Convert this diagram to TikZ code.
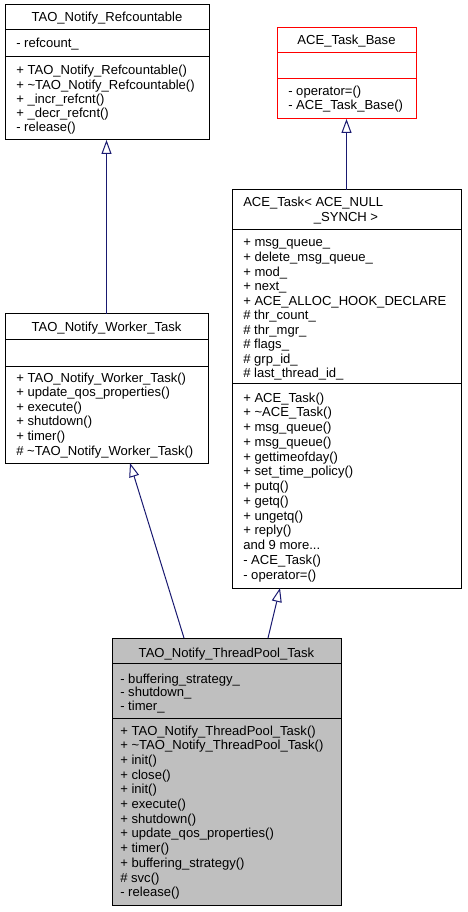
\documentclass[tikz,border=0pt]{standalone}
\usepackage{fontspec}
\setmainfont{Liberation Sans}
\usetikzlibrary{arrows.meta,calc}
\definecolor{navy}{HTML}{191970}
\definecolor{boxgray}{HTML}{BFBFBF}
\newcommand\tdots{.\kern0pt.\kern0pt.}
\begin{document}
\begin{tikzpicture}[x=0.75pt,y=-0.75pt,
  txt/.style={anchor=base west, inner sep=0pt, font=\fontsize{9.8}{11}\selectfont},
  ttl/.style={anchor=base, inner sep=0pt, font=\fontsize{9.8}{11}\selectfont},
  cls/.style={draw=black, line width=0.75pt, inner sep=0pt, outer sep=0pt},
  sep/.style={line width=0.75pt},
  inh/.style={draw=navy, line width=0.75pt, -{Triangle[open,length=10.5pt,width=7.5pt]}}]
\useasboundingbox (0,0) rectangle (467,912);
% boxes
\node[cls, minimum width=153pt, minimum height=101.25pt] (A) at (107,72.5) {};
\node[cls, draw=red, minimum width=104.25pt, minimum height=68.25pt] (B) at (346.5,73.5) {};
\node[cls, minimum width=171.75pt, minimum height=298.5pt] (C) at (346.5,389) {};
\node[cls, minimum width=152.25pt, minimum height=111.75pt] (D) at (106.5,388.5) {};
\node[cls, fill=boxgray, minimum width=171.75pt, minimum height=200.25pt] (E) at (226.5,771.5) {};
% separators
\draw[sep] ($(A.north west)+(0,25)$) -- ($(A.north east)+(0,25)$);
\draw[sep] ($(A.north west)+(0,52)$) -- ($(A.north east)+(0,52)$);
\draw[sep, red] ($(B.north west)+(0,25)$) -- ($(B.north east)+(0,25)$);
\draw[sep, red] ($(B.north west)+(0,51)$) -- ($(B.north east)+(0,51)$);
\draw[sep] ($(C.north west)+(0,40)$) -- ($(C.north east)+(0,40)$);
\draw[sep] ($(C.north west)+(0,193)$) -- ($(C.north east)+(0,193)$);
\draw[sep] ($(D.north west)+(0,26)$) -- ($(D.north east)+(0,26)$);
\draw[sep] ($(D.north west)+(0,52)$) -- ($(D.north east)+(0,52)$);
\draw[sep] ($(E.north west)+(0,25)$) -- ($(E.north east)+(0,25)$);
\draw[sep] ($(E.north west)+(0,80)$) -- ($(E.north east)+(0,80)$);
% A: TAO_Notify_Refcountable
\node[ttl] (At) at (107,22) {TAO\_Notify\_Refcountable};
\node[txt] (Aa0) at (16,48) {- refcount\_};
\foreach \t [count=\i from 0] in {{+ TAO\_Notify\_Refcountable()},{+ \textasciitilde TAO\_Notify\_Refcountable()},{+ \_incr\_refcnt()},{+ \_decr\_refcnt()},{- release()}}
  \node[txt] (Am\i) at (16,75+\i*14.2) {\t};
% B: ACE_Task_Base
\node[ttl] (Bt) at (346.5,45) {ACE\_Task\_Base};
\foreach \t [count=\i from 0] in {{- operator=()},{- ACE\_Task\_Base()}}
  \node[txt] (Bm\i) at (288,96+\i*14) {\t};
% C: ACE_Task
\node[txt] (Ct1) at (243,207) {ACE\_Task< ACE\_NULL};
\node[ttl] (Ct2) at (346,222) {\_SYNCH >};
\foreach \t [count=\i from 0] in {{+ msg\_queue\_},{+ delete\_msg\_queue\_},{+ mod\_},{+ next\_},{+ ACE\_ALLOC\_HOOK\_DECLARE},{\# thr\_count\_},{\# thr\_mgr\_},{\# flags\_},{\# grp\_id\_},{\# last\_thread\_id\_}}
  \node[txt] (Ca\i) at (243,247+\i*14.55) {\t};
\foreach \t [count=\i from 0] in {{+ ACE\_Task()},{+ \textasciitilde ACE\_Task()},{+ msg\_queue()},{+ msg\_queue()},{+ gettimeofday()},{+ set\_time\_policy()},{+ putq()},{+ getq()},{+ ungetq()},{+ reply()},{and 9 more\tdots},{- ACE\_Task()},{- operator=()}}
  \node[txt] (Cm\i) at (243,402+\i*14.75) {\t};
% D: TAO_Notify_Worker_Task
\node[ttl] (Dt) at (106.5,332) {TAO\_Notify\_Worker\_Task};
\foreach \t [count=\i from 0] in {{+ TAO\_Notify\_Worker\_Task()},{+ update\_qos\_properties()},{+ execute()},{+ shutdown()},{+ timer()},{\# \textasciitilde TAO\_Notify\_Worker\_Task()}}
  \node[txt] (Dm\i) at (16,382+\i*14.6) {\t};
% E: TAO_Notify_ThreadPool_Task
\node[ttl] (Et) at (226.5,657) {TAO\_Notify\_ThreadPool\_Task};
\foreach \t [count=\i from 0] in {{- buffering\_strategy\_},{- shutdown\_},{- timer\_}}
  \node[txt] (Ea\i) at (120,683+\i*13.5) {\t};
\foreach \t [count=\i from 0] in {{+ TAO\_Notify\_ThreadPool\_Task()},{+ \textasciitilde TAO\_Notify\_ThreadPool\_Task()},{+ init()},{+ close()},{+ init()},{+ execute()},{+ shutdown()},{+ update\_qos\_properties()},{+ timer()},{+ buffering\_strategy()},{\# svc()},{- release()}}
  \node[txt] (Em\i) at (120,735+\i*14.7) {\t};
% inheritance connectors
\draw[inh] (D.north) -- (D.north |- A.south);
\draw[inh] (C.north) -- (C.north |- B.south);
\draw[inh] ($(E.north west)+(72,0)$) -- ($(D.south west)+(125,0)$);
\draw[inh] ($(E.north west)+(156,0)$) -- ($(C.south west)+(48,0)$);
\end{tikzpicture}
\end{document}
